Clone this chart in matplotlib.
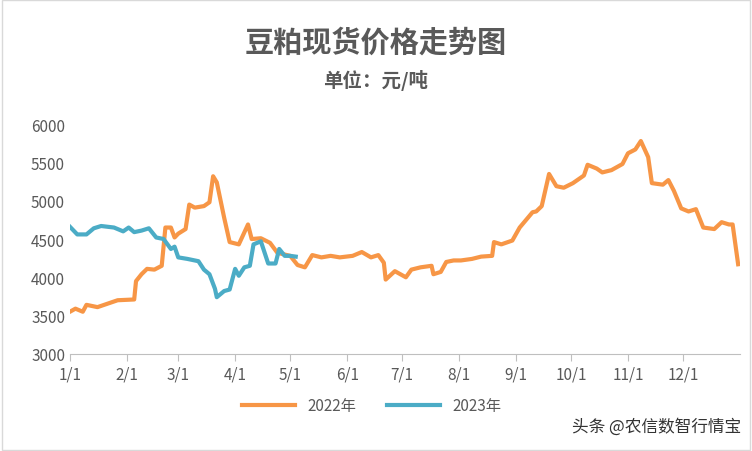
import matplotlib.pyplot as plt
from matplotlib.patches import Rectangle

plt.rcParams['font.family'] = ['Noto Sans CJK SC', 'DejaVu Sans']

# day of year / price (元/吨)
days_2022 = [1, 4, 8, 10, 16, 27, 36, 37, 40, 43, 47, 51, 53, 56, 58, 60, 64, 66, 69, 74, 77, 79, 81, 85, 88,
             93, 98, 100, 105, 110, 114, 121, 125, 129, 133, 138, 143, 148, 155, 160, 165, 169, 172, 173, 178,
             184, 187, 192, 198, 199, 203, 206, 210, 214, 220, 225, 231, 232, 236, 242, 246, 253, 255, 258, 262,
             266, 270, 275, 281, 283, 288, 291, 296, 302, 305, 309, 312, 316, 318, 324, 327, 330, 334, 338, 342,
             346, 352, 356, 360, 362, 365]
price_2022 = [3550, 3590, 3550, 3640, 3610, 3700, 3710, 3950, 4040, 4110, 4100, 4150, 4650, 4650, 4520, 4570,
              4630, 4950, 4910, 4930, 4980, 5320, 5240, 4780, 4460, 4430, 4690, 4500, 4510, 4450, 4320, 4280,
              4160, 4130, 4290, 4260, 4280, 4260, 4280, 4330, 4260, 4290, 4190, 3970, 4080, 4000, 4100, 4130,
              4150, 4040, 4070, 4200, 4220, 4220, 4240, 4270, 4280, 4460, 4430, 4480, 4650, 4850, 4860, 4930,
              5350, 5190, 5170, 5230, 5330, 5470, 5420, 5370, 5400, 5480, 5620, 5670, 5780, 5570, 5230, 5210,
              5270, 5130, 4900, 4860, 4890, 4650, 4630, 4720, 4690, 4690, 4170]
days_2023 = [1, 5, 10, 14, 18, 25, 30, 33, 36, 40, 44, 48, 52, 56, 58, 60, 65, 71, 74, 77, 80, 81, 85, 88, 91,
             93, 96, 99, 101, 105, 109, 113, 115, 118, 121, 124]
price_2023 = [4660, 4560, 4560, 4640, 4670, 4650, 4600, 4650, 4590, 4610, 4640, 4520, 4500, 4370, 4400, 4260,
              4240, 4210, 4100, 4040, 3850, 3740, 3820, 3840, 4110, 4020, 4130, 4150, 4430, 4470, 4180, 4180,
              4370, 4280, 4280, 4270]
tick_days = [1, 32, 60, 91, 121, 152, 182, 213, 244, 274, 305, 335]
tick_labels = ['1/1', '2/1', '3/1', '4/1', '5/1', '6/1', '7/1', '8/1', '9/1', '10/1', '11/1', '12/1']

fig = plt.figure(figsize=(7.52, 4.52), dpi=100)
ax = fig.add_axes([0.093, 0.215, 0.891, 0.508])
ax.plot(days_2022, price_2022, color='#F79646', lw=3, label='2022年')
ax.plot(days_2023, price_2023, color='#4BACC6', lw=3, label='2023年')
ax.set_xlim(1, 366)
ax.set_ylim(3000, 6000)
ax.set_yticks(range(3000, 6001, 500))
ax.set_xticks(tick_days)
ax.set_xticklabels(tick_labels)
ax.tick_params(axis='both', labelsize=11, colors='#595959')
ax.tick_params(axis='y', length=0)
ax.tick_params(axis='x', length=5, color='#BFBFBF')
for s in ['top', 'right', 'left']:
    ax.spines[s].set_visible(False)
ax.spines['bottom'].set_color('#BFBFBF')

fig.text(0.5, 0.905, '豆粕现货价格走势图', ha='center', va='center', fontsize=21, fontweight='bold', color='#595959')
fig.text(0.5, 0.823, '单位：元/吨', ha='center', va='center', fontsize=14, fontweight='bold', color='#595959')
ax.legend(loc='upper center', bbox_to_anchor=(0.45, -0.13), ncol=2, frameon=False, fontsize=11,
          labelcolor='#595959', handlelength=3.5)
fig.text(0.985, 0.055, '头条 @农信数智行情宝', ha='right', va='center', fontsize=12, color='#333333')
fig.patches.append(Rectangle((0.002, 0.003), 0.995, 0.994, transform=fig.transFigure, fill=False,
                             edgecolor='#D9D9D9', lw=1))
fig.savefig('out.png', dpi=100)
